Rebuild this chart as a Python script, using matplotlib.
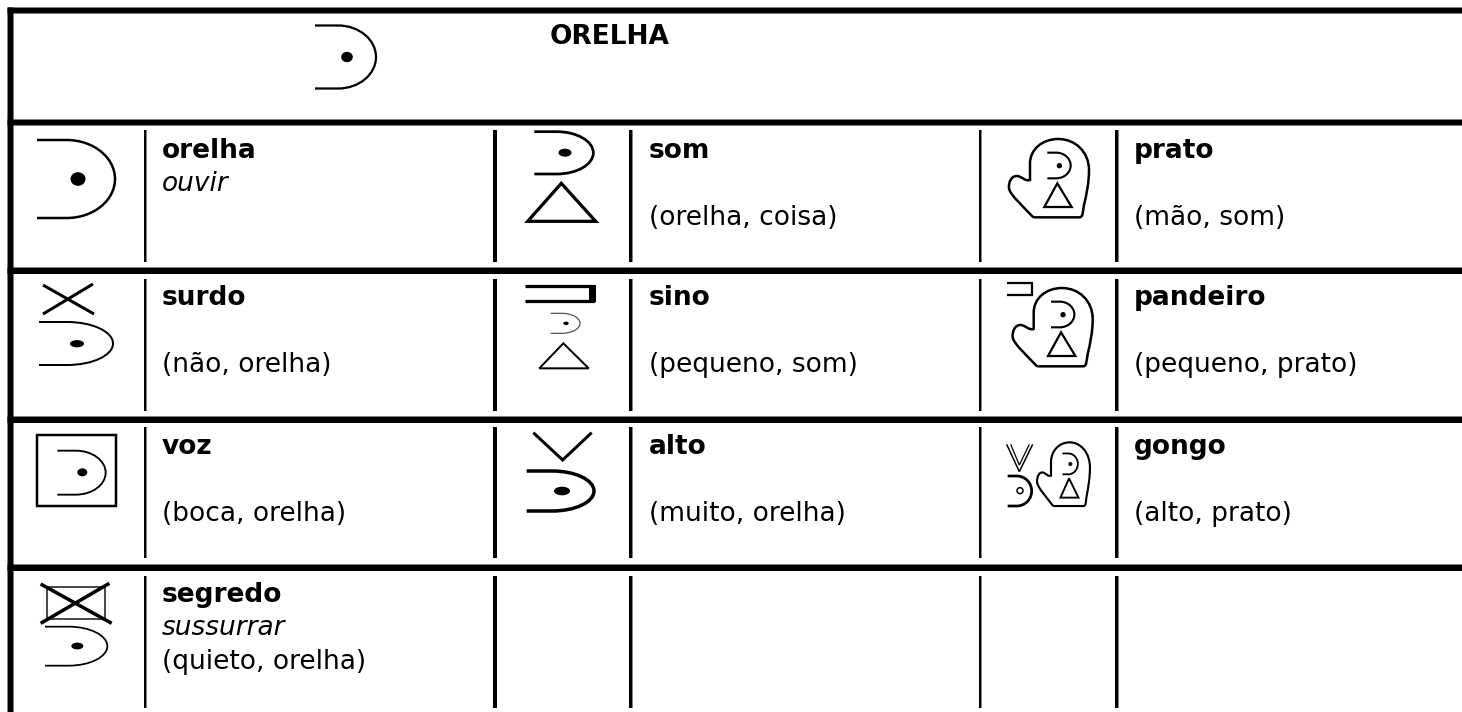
import matplotlib
matplotlib.use("Agg")
import matplotlib.pyplot as plt
from matplotlib.path import Path
from matplotlib.patches import PathPatch, Ellipse, Polygon, Rectangle

# ---- table content ----
title = "ORELHA"
col_text_x = [162, 649, 1134]
row_base_y = [158, 305, 454, 602]
terms = [
    ["orelha", "som", "prato"],
    ["surdo", "sino", "pandeiro"],
    ["voz", "alto", "gongo"],
    ["segredo", "", ""],
]
glosses = [
    ["ouvir", "", ""],
    ["", "", ""],
    ["", "", ""],
    ["sussurrar", "", ""],
]
compounds = [
    ["", "(orelha, coisa)", "(mão, som)"],
    ["(não, orelha)", "(pequeno, som)", "(pequeno, prato)"],
    ["(boca, orelha)", "(muito, orelha)", "(alto, prato)"],
    ["(quieto, orelha)", "", ""],
]

# ---- grid ----
h_rules = [(7.5, 13.5), (119.5, 125.5), (267.5, 274), (416.5, 423), (564.5, 571)]
v_rules = [(144, 146.5), (493, 497), (629, 632.5), (979, 981.5), (1115, 1118.5)]
row_spans = [(130, 262), (279, 411), (427, 558), (576, 708)]

fig = plt.figure(figsize=(14.62, 7.12), dpi=100)
ax = fig.add_axes([0, 0, 1, 1])
ax.set_xlim(0, 1462)
ax.set_ylim(712, 0)
ax.axis("off")
K = "black"


def px(v):
    return v * 0.72 * 1.25


for y0, y1 in h_rules:
    ax.add_patch(Rectangle((7.5, y0), 1454.5, y1 - y0, fc=K, ec="none", snap=False))
ax.add_patch(Rectangle((7.5, 7.5), 6, 704.5, fc=K, ec="none", snap=False))
for x0, x1 in v_rules:
    for y0, y1 in row_spans:
        ax.add_patch(Rectangle((x0, y0), x1 - x0, y1 - y0, fc=K, ec="none", snap=False))


def stroke(verts, codes, lw, color=K):
    ax.add_patch(PathPatch(Path(verts, codes), fc="none", ec=color, lw=px(lw),
                           joinstyle="round", capstyle="butt"))


def poly(pts, lw, closed=False, color=K):
    ax.add_patch(Polygon(pts, closed=closed, fc="none", ec=color, lw=px(lw),
                         joinstyle="miter", capstyle="butt"))


def ear(x0, x1, y0, y1, lw=2.0, dot=None, drx=5, dry=5, color=K, hollow=False):
    w, h = x1 - x0, y1 - y0
    m = (y0 + y1) / 2
    xs = x0 + .38 * w          # end of the flat part
    k = .5523
    v = [(x0, y0), (xs, y0),
         (xs + k * (x1 - xs), y0), (x1, m - k * h / 2), (x1, m),
         (x1, m + k * h / 2), (xs + k * (x1 - xs), y1), (xs, y1),
         (x0, y1)]
    codes = [Path.MOVETO, Path.LINETO] + [Path.CURVE4] * 6 + [Path.LINETO]
    stroke(v, codes, lw, color)
    if dot is not None:
        if hollow:
            ax.add_patch(Ellipse(dot, 2 * drx, 2 * dry, fc="white", ec=K, lw=px(1.2)))
        else:
            ax.add_patch(Ellipse(dot, 2 * drx, 2 * dry, fc=K, ec="none"))


MITTEN_V = [(160, 292), (298, 292),
            (310, 292), (308, 275), (312, 255),
            (320, 220), (327, 190), (327, 150),
            (327, 95), (285, 57), (235, 57),
            (185, 57), (150, 90), (150, 130),
            (150, 180),
            (135, 185), (125, 168), (110, 168),
            (95, 168), (85, 185), (87, 205),
            (90, 225), (130, 260), (160, 292)]
MITTEN_C = [Path.MOVETO, Path.LINETO] + [Path.CURVE4] * 12 + [Path.LINETO] + [Path.CURVE4] * 9


def mitten(ox, oy, sx=1 / 3, sy=1 / 3, lw=2.0, inner_dot=2.7):
    """Hand outline holding an ear over a triangle; ox, oy map the template origin."""
    t = lambda p: (ox + p[0] * sx, oy + p[1] * sy)
    stroke([t(p) for p in MITTEN_V], MITTEN_C, lw)
    ear(ox + 202 * sx, ox + 272 * sx, oy + 98 * sy, oy + 175 * sy, lw=lw * .85,
        dot=t((238, 137)), drx=inner_dot, dry=inner_dot)
    poly([t((232, 190)), t((193, 261)), t((275, 261))], lw * .9, closed=True)


def z(o, x, y):
    return (o[0] + x / 3, o[1] + y / 3)


# header glyph
ear(315, 376, 25.5, 88.5, lw=1.8, dot=(347, 57), drx=5.8, dry=5.2)

# orelha
ear(37, 115, 140, 218, lw=2.0, dot=(78, 179), drx=7.5, dry=6.8)

# som
o = (490, 120)
ear(490 + 133 / 3, 490 + 310 / 3, 120 + 35 / 3, 120 + 162 / 3, lw=2.2,
    dot=z(o, 225, 98), drx=6.5, dry=4)
poly([z(o, 214, 190), z(o, 113, 304), z(o, 317, 304)], 2.6, closed=True)

# prato
mitten(980, 120)

# surdo
ax.plot([43, 94], [285, 314], color=K, lw=px(2.4), solid_capstyle="butt")
ax.plot([43, 93], [314, 284], color=K, lw=px(2.4), solid_capstyle="butt")
ear(39, 113, 322, 365, lw=1.6, dot=(77, 343.7), drx=7, dry=3.6)

# sino
o = (490, 120)
poly([z(o, 105, 497), z(o, 308, 497), z(o, 308, 542), z(o, 105, 542)], 2.6)
ax.add_patch(Rectangle(z(o, 296, 496), 22 / 3, 49 / 3, fc=K, ec="none"))
ear(490 + 182 / 3, 490 + 270 / 3, 120 + 580 / 3, 120 + 640 / 3, lw=1.0, color="#555555",
    dot=z(o, 228, 610), drx=2.7, dry=1.7)
poly([z(o, 220, 670), z(o, 148, 745), z(o, 296, 745)], 1.6, closed=True)

# pandeiro
mitten(983.7, 269)
o = (980, 120)
poly([z(o, 80, 490), z(o, 157, 490), z(o, 157, 524), z(o, 80, 524)], 1.8)

# voz
o = (0, 410)
poly([z(o, 112, 76), z(o, 348, 76), z(o, 348, 287), z(o, 112, 287)], 2.0, closed=True)
ear(172 / 3, 317 / 3, 410 + 122 / 3, 410 + 254 / 3, lw=1.5, dot=z(o, 247, 187), drx=5, dry=4)

# alto
o = (490, 410)
poly([z(o, 130, 68), z(o, 218, 150), z(o, 305, 68)], 2.4)
ear(490 + 110 / 3, 490 + 312 / 3, 410 + 183 / 3, 410 + 303 / 3, lw=2.8,
    dot=z(o, 216, 243), drx=8, dry=4.3)

# gongo
o = (980, 410)
mitten(1018, 426.9, sx=.22, sy=.271, lw=1.7, inner_dot=2.0)
poly([z(o, 80, 103), z(o, 118, 185), z(o, 158, 103)], 1.2)
poly([z(o, 92, 103), z(o, 118, 165), z(o, 148, 103)], 1.0)
ear(980 + 83 / 3, 980 + 155 / 3, 410 + 198 / 3, 410 + 288 / 3, lw=2.2,
    dot=z(o, 120, 242), drx=3, dry=3, hollow=True)

# segredo
o = (0, 410)
poly([z(o, 142, 530), z(o, 315, 530), z(o, 315, 628), z(o, 142, 628)], 1.4, closed=True, color="#333333")
ax.plot([122 / 3, 335 / 3], [410 + 522 / 3, 410 + 640 / 3], color=K, lw=px(2.8), solid_capstyle="butt")
ax.plot([122 / 3, 328 / 3], [410 + 640 / 3, 410 + 520 / 3], color=K, lw=px(2.8), solid_capstyle="butt")
ear(135 / 3, 322 / 3, 410 + 650 / 3, 410 + 767 / 3, lw=1.4, dot=z(o, 232, 708), drx=6, dry=3.4)

# ---- text ----
FS = 19
ax.text(550, 44, title, fontsize=FS, fontweight="bold", family="DejaVu Sans", va="baseline")
for r, base in enumerate(row_base_y):
    for c, x in enumerate(col_text_x):
        if terms[r][c]:
            ax.text(x, base, terms[r][c], fontsize=FS, fontweight="bold", family="DejaVu Sans", va="baseline")
        if glosses[r][c]:
            ax.text(x, base + 33, glosses[r][c], fontsize=FS, style="italic", family="DejaVu Sans", va="baseline")
        if compounds[r][c]:
            ax.text(x, base + 67, compounds[r][c], fontsize=FS, family="DejaVu Sans", va="baseline")

fig.savefig("out.png", dpi=100)
